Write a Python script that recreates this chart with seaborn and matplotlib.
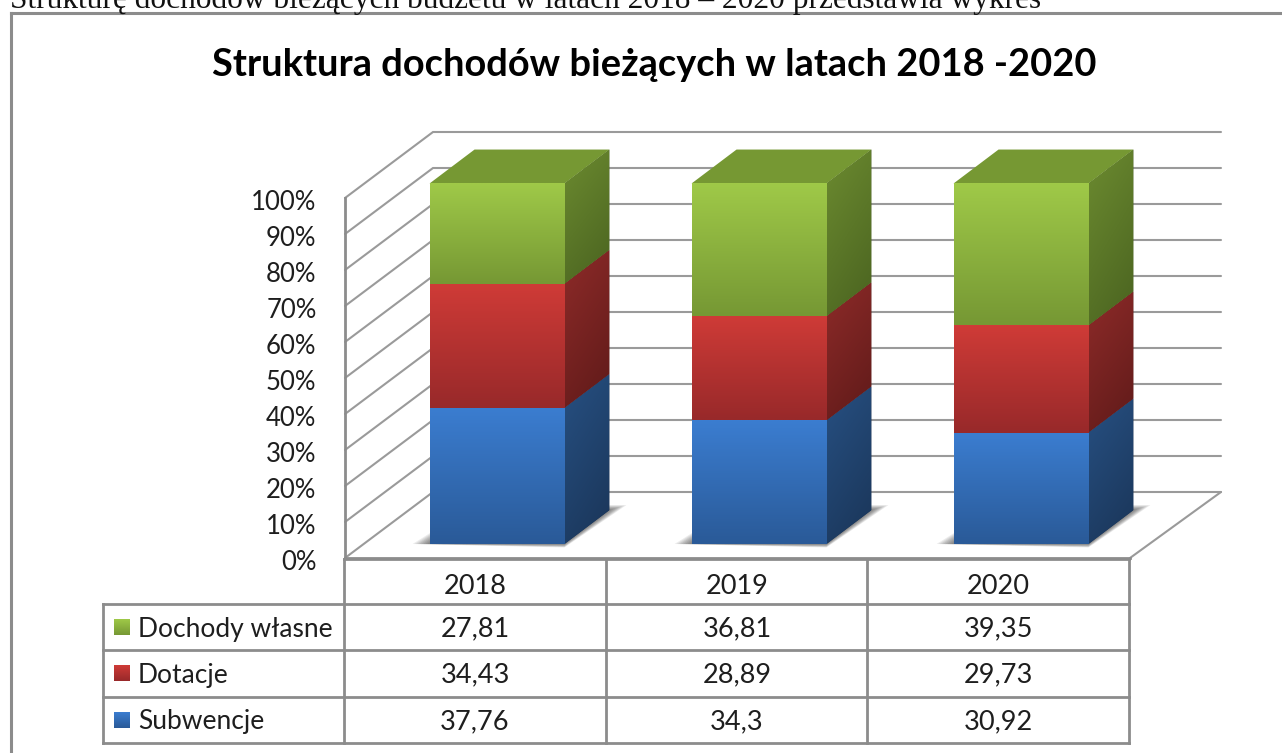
import numpy as np
import pandas as pd
import matplotlib
matplotlib.use("Agg")
import matplotlib.pyplot as plt
from matplotlib.patches import Polygon
from matplotlib.transforms import Affine2D
import seaborn as sns

years = ["2018", "2019", "2020"]
series_names = ["Subwencje", "Dotacje", "Dochody własne"]
subwencje = [37.76, 34.3, 30.92]
dotacje = [34.43, 28.89, 29.73]
dochody = [27.81, 36.81, 39.35]
y_ticks = [0, 10, 20, 30, 40, 50, 60, 70, 80, 90, 100]
heading = "Strukturę dochodów bieżących budżetu w latach 2018 – 2020 przedstawia wykres"
title = "Struktura dochodów bieżących w latach 2018 -2020"

W, H = 1282, 753
LINE = "#8c8c8c"
WALL = "#9a9a9a"
TXT = "#1e1e1e"
front = {"top": ["#3b7dd0", "#cf3b37", "#9fc948"], "bottom": ["#2a5a98", "#98292a", "#769834"]}
side = {"top": ["#275082", "#8e2b29", "#6c8b30"], "bottom": ["#1a3558", "#5f1a19", "#4a6320"]}
TOP_FACE = "#769833"

sns.set_theme(style="white")
plt.rcParams["font.family"] = ["Lato", "DejaVu Sans"]
fig = plt.figure(figsize=(W / 100, H / 100), dpi=100, facecolor="white")


def rect(l, t, r, b):
    return [l / W, 1 - b / H, (r - l) / W, (b - t) / H]


def rgb(c):
    return np.array(matplotlib.colors.to_rgb(c))


# back walls and value axis
wall = fig.add_axes(rect(345, 198, 1130, 558), zorder=1)
wall.set_xlim(0, 785)
wall.set_ylim(0, 100)
wall.patch.set_visible(False)
WD_X, WD_Y = 88, 66 / 3.6
for t in y_ticks:
    wall.plot([0, WD_X, 785 + 91], [t, t + WD_Y, t + WD_Y], color=WALL, lw=1.5, clip_on=False,
              solid_joinstyle="miter")
wall.plot([785, 785 + 91], [0, WD_Y], color=WALL, lw=1.5, clip_on=False)
sns.despine(ax=wall, top=True, right=True, left=False, bottom=False)
for s in ("left", "bottom"):
    wall.spines[s].set_color(LINE)
    wall.spines[s].set_linewidth(2)
wall.set_xticks([])
wall.set_yticks(y_ticks)
wall.set_yticklabels([f"{t}%" for t in y_ticks], fontsize=18.5, color=TXT)
wall.tick_params(axis="y", length=0, pad=20.5)
for lab in wall.get_yticklabels():
    lab.set_transform(lab.get_transform() + Affine2D().translate(0, -2))

# bars
ax = fig.add_axes(rect(366, 183.5, 1152, 544), zorder=2)
ax.patch.set_visible(False)
df = pd.DataFrame({"rok": years, "Subwencje": subwencje, "Dotacje": dotacje, "Dochody": dochody})
cols = ["Subwencje", "Dotacje", "Dochody"]
bottom = np.zeros(len(years))
seg = []
for i, c in enumerate(cols):
    before = len(ax.patches)
    sns.barplot(data=df, x="rok", y=c, color=front["top"][i], saturation=1, width=0.515,
                bottom=bottom, ax=ax, linewidth=0, zorder=4)
    seg.append(list(ax.patches[before:]))
    bottom = bottom + df[c].to_numpy()
ax.set_xlim(-0.5, 2.5)
ax.set_ylim(0, 100)
ax.axis("off")

PX = 3 / 786   # category units per pixel
PY = 100 / 361 # value units per pixel
DX, DY = 45 * PX, 34 * PY


def grad(ax, c_top, c_bot, extent, clip, diag=False, z=5):
    n = 64
    v = np.linspace(0, 1, n)[:, None]
    u = np.linspace(0, 1, n)[None, :]
    k = (0.7 * v + 0.3 * u) if diag else v * np.ones_like(u)
    arr = rgb(c_top) * (1 - k[..., None]) + rgb(c_bot) * k[..., None]
    im = ax.imshow(arr, extent=extent, origin="upper", aspect="auto", zorder=z, interpolation="bilinear")
    if clip is not None:
        im.set_clip_path(clip)
        im.set_clip_box(fig.bbox)
    return im


# floor shadows
for p in seg[0]:
    x0, x1 = p.get_x(), p.get_x() + p.get_width()
    inner = np.array([[x0, 0], [x1, 0], [x1 + DX, DY], [x0 + DX, DY]])
    outer = np.array([[x0 - 17 * PX, 0], [x1, -3.5 * PY], [x1 + 62 * PX, 39 * PY], [x0 + DX, 39 * PY]])
    for s in np.linspace(1, 0, 9):
        ax.add_patch(Polygon(inner + (outer - inner) * s, closed=True, fc="black", alpha=0.075,
                             ec="none", clip_on=False, zorder=1))

# faces
for i, bars in enumerate(seg):
    for p in bars:
        x0, x1 = p.get_x(), p.get_x() + p.get_width()
        y0, y1 = p.get_y(), p.get_y() + p.get_height()
        p.set_zorder(4)
        grad(ax, front["top"][i], front["bottom"][i], (x0, x1, y0, y1), p)
        poly = Polygon([[x1, y0], [x1 + DX, y0 + DY], [x1 + DX, y1 + DY], [x1, y1]], closed=True,
                       fc=side["bottom"][i], ec="none", clip_on=False, zorder=3)
        ax.add_patch(poly)
        grad(ax, side["top"][i], side["bottom"][i], (x1, x1 + DX, y0, y1 + DY), poly, diag=True, z=3.5)
        if i == len(seg) - 1:
            ax.add_patch(Polygon([[x0, y1], [x1, y1], [x1 + DX, y1 + DY], [x0 + DX, y1 + DY]], closed=True,
                                 fc=TOP_FACE, ec="none", clip_on=False, zorder=3))
ax.set_xlim(-0.5, 2.5)
ax.set_ylim(0, 100)

# frame, table and text on a pixel canvas
cv = fig.add_axes([0, 0, 1, 1], zorder=3)
cv.set_xlim(0, W)
cv.set_ylim(H, 0)
cv.axis("off")
cv.patch.set_visible(False)


def ln(xs, ys, lw=2.0):
    cv.plot(xs, ys, color=LINE, lw=lw, solid_capstyle="projecting", clip_on=False)


ln([11, 11], [13, H + 5], 2.2)
ln([11, W + 5], [13, 13], 2.2)
row_y = [604, 650, 697, 743]
col_x = [344, 606, 867, 1129]
ln([344, 1129], [559, 559])
for y in row_y:
    ln([103, 1129], [y, y])
ln([103, 103], [604, 743])
for x in col_x:
    ln([x, x], [559, 743])

cv.text(10, 8, heading, family="Liberation Serif", fontsize=22.6, color="#111111", ha="left", va="baseline")
cv.text(654, 76, title, fontsize=27.4, fontweight="bold", color="black", ha="center", va="baseline")

centres = [475, 737, 998]
for x, yr in zip(centres, years):
    cv.text(x, 587, yr, fontsize=19.5, color=TXT, ha="center", va="center")

rows = [("Dochody własne", dochody, 2, 627), ("Dotacje", dotacje, 1, 673), ("Subwencje", subwencje, 0, 720)]
for name, vals, i, y in rows:
    grad(cv, front["top"][i], front["bottom"][i], (114, 130, y + 8, y - 8), None, z=5)
    cv.text(138, y + 2, name, fontsize=19, color=TXT, ha="left", va="center")
    for x, v in zip(centres, vals):
        cv.text(x, y + 2, f"{v:g}".replace(".", ","), fontsize=19.5, color=TXT, ha="center", va="center")
cv.set_xlim(0, W)
cv.set_ylim(H, 0)

fig.savefig("out.png", dpi=100, facecolor="white")
